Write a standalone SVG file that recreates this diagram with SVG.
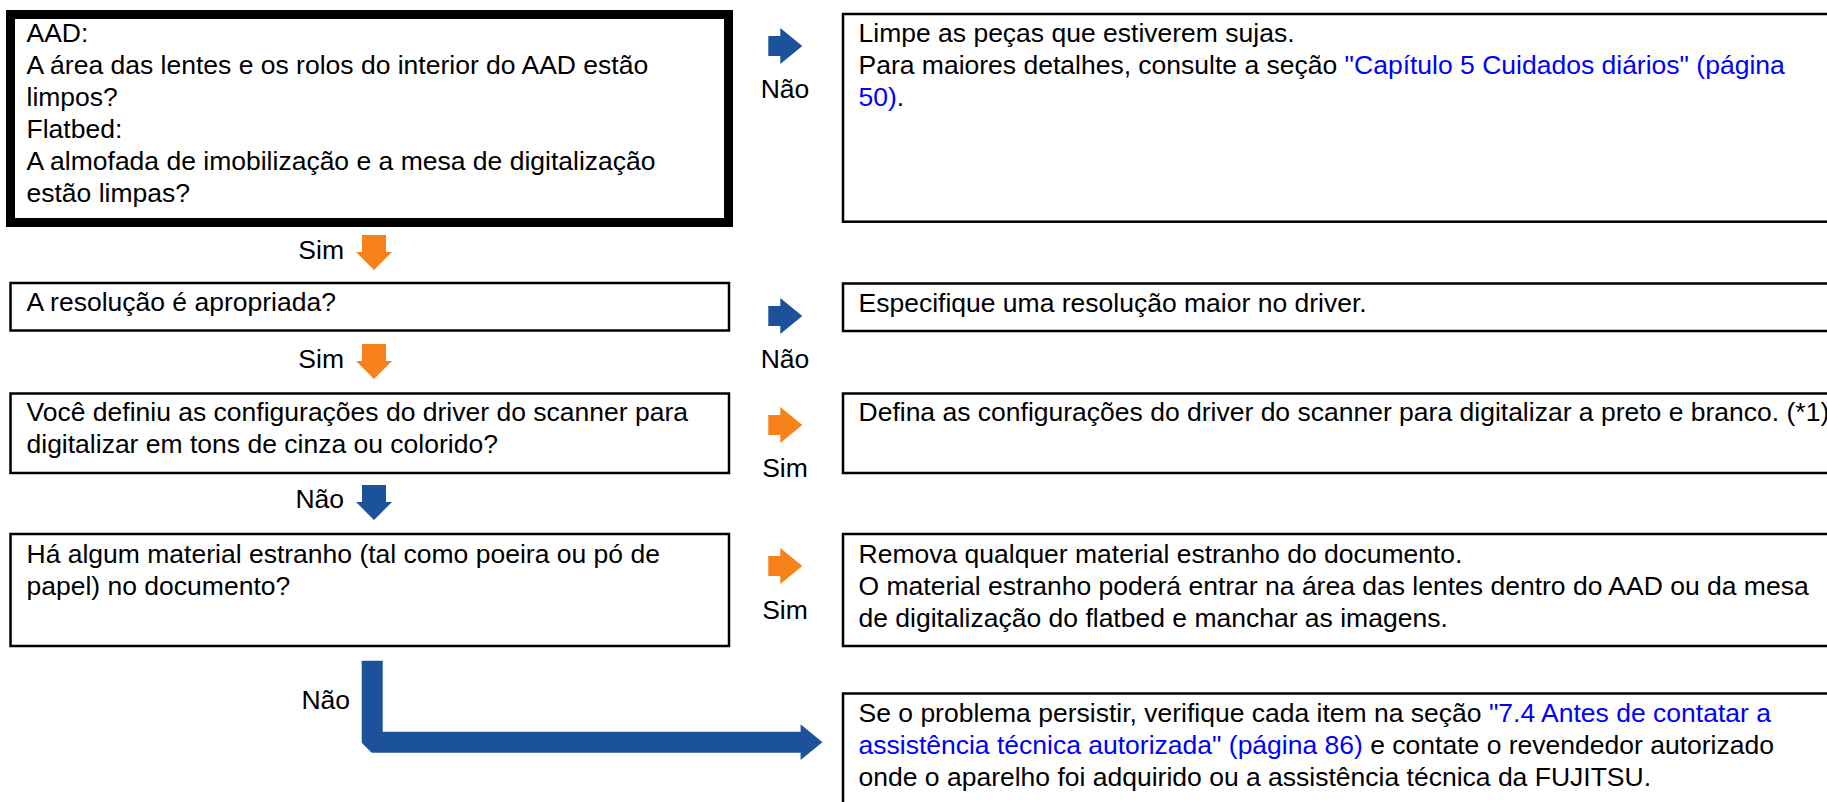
<svg xmlns="http://www.w3.org/2000/svg" width="1827" height="802" viewBox="0 0 1827 802">
<style>
text{font-family:"Liberation Sans",Arial,sans-serif;font-size:26.5px;fill:#000}
.box{fill:#fff;stroke:#000;stroke-width:2.5}
.thick{fill:#fff;stroke:#000;stroke-width:9}
.link{fill:#0000ff}
.blue{fill:#1c529a}
.orange{fill:#f7811a}
.lbl{text-anchor:middle}
.lble{text-anchor:end}
</style>
<defs>
<polygon id="ra" points="-34,-10 -22,-10 -22,-18 0,0 -22,18 -22,10 -34,10"/>
<polygon id="da" points="-12,-35 12,-35 12,-18 18,-18 0,0 -18,-18 -12,-18"/>
</defs>
<rect width="1827" height="802" fill="#fff"/>
<g id="q1">
<rect class="thick" x="10.5" y="14.5" width="718" height="208"/>
<text x="26.5" y="42">AAD:</text>
<text x="26.5" y="74">A área das lentes e os rolos do interior do AAD estão</text>
<text x="26.5" y="106">limpos?</text>
<text x="26.5" y="138">Flatbed:</text>
<text x="26.5" y="170">A almofada de imobilização e a mesa de digitalização</text>
<text x="26.5" y="202">estão limpas?</text>
</g>
<g id="a1">
<rect class="box" x="843" y="14" width="1000" height="207.7"/>
<text x="858.5" y="42">Limpe as peças que estiverem sujas.</text>
<text x="858.5" y="74">Para maiores detalhes, consulte a seção <tspan class="link">"Capítulo 5 Cuidados diários" (página</tspan></text>
<text x="858.5" y="106"><tspan class="link">50)</tspan>.</text>
</g>
<g id="q2">
<rect class="box" x="10.5" y="283" width="718.5" height="47.5"/>
<text x="26.5" y="311">A resolução é apropriada?</text>
</g>
<g id="a2">
<rect class="box" x="843" y="283.5" width="1000" height="47.5"/>
<text x="858.5" y="311.5">Especifique uma resolução maior no driver.</text>
</g>
<g id="q3">
<rect class="box" x="10.5" y="393.5" width="718.5" height="79.5"/>
<text x="26.5" y="421">Você definiu as configurações do driver do scanner para</text>
<text x="26.5" y="453">digitalizar em tons de cinza ou colorido?</text>
</g>
<g id="a3">
<rect class="box" x="843" y="393.5" width="1000" height="79.5"/>
<text x="858.5" y="421">Defina as configurações do driver do scanner para digitalizar a preto e branco. (*1)</text>
</g>
<g id="q4">
<rect class="box" x="10.5" y="534" width="718.5" height="112"/>
<text x="26.5" y="562.5">Há algum material estranho (tal como poeira ou pó de</text>
<text x="26.5" y="594.5">papel) no documento?</text>
</g>
<g id="a4">
<rect class="box" x="843" y="534" width="1000" height="112"/>
<text x="858.5" y="562.5">Remova qualquer material estranho do documento.</text>
<text x="858.5" y="594.5">O material estranho poderá entrar na área das lentes dentro do AAD ou da mesa</text>
<text x="858.5" y="626.5">de digitalização do flatbed e manchar as imagens.</text>
</g>
<g id="a5">
<rect class="box" x="843" y="693.5" width="1000" height="130"/>
<text x="858.5" y="721.5">Se o problema persistir, verifique cada item na seção <tspan class="link">"7.4 Antes de contatar a</tspan></text>
<text x="858.5" y="753.5"><tspan class="link">assistência técnica autorizada" (página 86)</tspan> e contate o revendedor autorizado</text>
<text x="858.5" y="785.5">onde o aparelho foi adquirido ou a assistência técnica da FUJITSU.</text>
</g>
<g id="connectors">
<use href="#ra" class="blue" x="802.3" y="46"/>
<text class="lbl" x="785" y="98">Não</text>
<use href="#da" class="orange" x="374" y="270"/>
<text class="lble" x="344" y="259">Sim</text>
<use href="#ra" class="blue" x="802.3" y="316"/>
<text class="lbl" x="785" y="368">Não</text>
<use href="#da" class="orange" x="374" y="379"/>
<text class="lble" x="344" y="368">Sim</text>
<use href="#ra" class="orange" x="802.3" y="425"/>
<text class="lbl" x="785" y="477">Sim</text>
<use href="#da" class="blue" x="374" y="520"/>
<text class="lble" x="344" y="508">Não</text>
<use href="#ra" class="orange" x="802.3" y="566"/>
<text class="lbl" x="785" y="619">Sim</text>
<polygon class="blue" points="361.7,660.7 382.7,660.7 382.7,731.7 800.6,731.7 800.6,724.3 822.4,742.3 800.6,760 800.6,752.7 371.7,752.7 361.7,742.7"/>
<text class="lble" x="350" y="709">Não</text>
</g>
</svg>
